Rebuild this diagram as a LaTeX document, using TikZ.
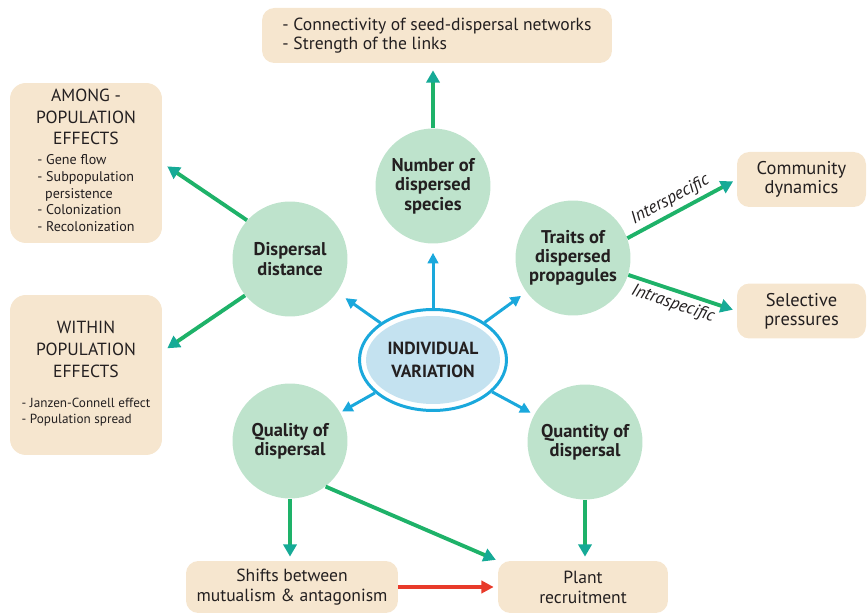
\documentclass[tikz,border=0pt]{standalone}
\usepackage{fontspec}
\setmainfont{PT Sans}
\usetikzlibrary{shapes.geometric,arrows.meta}

\definecolor{boxtan}{RGB}{246,230,207}
\definecolor{circgreen}{RGB}{190,227,204}
\definecolor{arrgreen}{RGB}{30,178,105}
\definecolor{tipteal}{RGB}{22,170,150}
\definecolor{ivblue}{RGB}{26,168,220}
\definecolor{ivfill}{RGB}{196,226,240}
\definecolor{arrred}{RGB}{232,58,42}
\definecolor{txt}{RGB}{35,31,32}

\begin{document}
\begin{tikzpicture}[x=0.02cm,y=0.02cm,
  every node/.style={text=txt},
  effect/.style={fill=boxtan,rounded corners=7pt,inner sep=0pt,align=center,font=\fontsize{10}{11.5}\selectfont},
  bigeffect/.style={effect,minimum width=3.04cm,minimum height=3.2cm,rounded corners=9pt,font=\fontsize{10}{12}\selectfont},
  factor/.style={circle,fill=circgreen,minimum size=2.3cm,inner sep=0pt,align=center,font=\bfseries\fontsize{10.5}{11}\selectfont},
  greenarrow/.style={draw=arrgreen,line width=2.2pt,-{Triangle[length=7pt,width=7.5pt,color=tipteal]}},
  bluearrow/.style={draw=ivblue,line width=1.7pt,-{Triangle[length=6pt,width=6pt]}},
  redarrow/.style={draw=arrred,line width=2pt,-{Triangle[length=7pt,width=7pt]}},
  arrowlabel/.style={font=\itshape\fontsize{10}{12}\selectfont,inner sep=2pt}]
\useasboundingbox (0,0) rectangle (868,615);

\node[effect,minimum width=7cm,minimum height=1.1cm,align=left,font=\fontsize{10}{11}\selectfont] (links) at (437,579.5) {- Connectivity of seed-dispersal networks\\- Strength of the links};

\node[bigeffect] (among) at (86,452) {AMONG -\\POPULATION\\EFFECTS\\[4pt]{\fontsize{8}{9.5}\selectfont\begin{tabular}{@{}l@{}}- Gene flow\\- Subpopulation\\\hspace*{0.55em}persistence\\- Colonization\\- Recolonization\end{tabular}}};
\node[bigeffect,font=\fontsize{10}{12.5}\selectfont] (within) at (86,240) {WITHIN\\POPULATION\\EFFECTS\\[9pt]{\fontsize{7.5}{9.5}\selectfont\begin{tabular}{@{}l@{}}- Janzen-Connell effect\\- Population spread\end{tabular}}};

\node[effect,minimum width=2.58cm,minimum height=1.1cm,font=\fontsize{10.5}{11}\selectfont] (community) at (801.5,435.5) {Community\\dynamics};
\node[effect,minimum width=2.58cm,minimum height=1.1cm,font=\fontsize{10.5}{11}\selectfont] (selective) at (801.5,304) {Selective\\pressures};
\node[effect,minimum width=4.24cm,minimum height=1.04cm] (shifts) at (292,28) {Shifts between\\mutualism \& antagonism};
\node[effect,minimum width=3.4cm,minimum height=1.04cm] (recruit) at (583,28) {Plant\\recruitment};

\node[factor] (number) at (433,429) {Number of\\dispersed\\species};
\node[factor] (distance) at (290,356) {Dispersal\\distance};
\node[factor] (traits) at (573,357) {Traits of\\dispersed\\propagules};
\node[factor] (quality) at (290,174) {Quality of\\dispersal};
\node[factor] (quantity) at (585,173) {Quantity of\\dispersal};

\node[ellipse,draw=ivblue,line width=1.7pt,fill=white,minimum width=2.94cm,minimum height=2.02cm,align=center,font=\bfseries\fontsize{10}{13}\selectfont,
  path picture={\fill[ivfill] (path picture bounding box.center) ellipse (1.34cm and 0.88cm);}] (variation) at (433,255) {INDIVIDUAL\\VARIATION};

\draw[bluearrow,shorten >=0.18cm] (variation) -- (number);
\draw[bluearrow,shorten >=0.2cm] (variation) -- (distance);
\draw[bluearrow,shorten >=0.13cm] (variation) -- (traits);
\draw[bluearrow,shorten >=0.04cm] (variation) -- (quality);
\draw[bluearrow,shorten >=0.08cm] (variation) -- (quantity);

\draw[greenarrow,shorten >=0.14cm] (number) -- (number |- links.south);
\draw[greenarrow,shorten >=0.12cm] (distance.138) -- (among.east);
\draw[greenarrow,shorten >=0.12cm] (distance.219) -- (within.17);
\draw[greenarrow,shorten >=0.08cm] (traits.20) -- (community.west) node[arrowlabel,pos=0.45,sloped,above] {Interspecific};
\draw[greenarrow,shorten >=0.08cm] (traits.-17) -- (selective.west) node[arrowlabel,pos=0.45,sloped,below] {Intraspecific};
\draw[greenarrow,shorten >=0.08cm] (quality) -- (quality |- shifts.north);
\draw[greenarrow,shorten >=0.04cm] (quality.-52) -- (recruit.north west);
\draw[greenarrow,shorten >=0.08cm] (quantity) -- (quantity |- recruit.north);
\draw[redarrow,shorten >=0.08cm] (shifts) -- (recruit);

\end{tikzpicture}
\end{document}
